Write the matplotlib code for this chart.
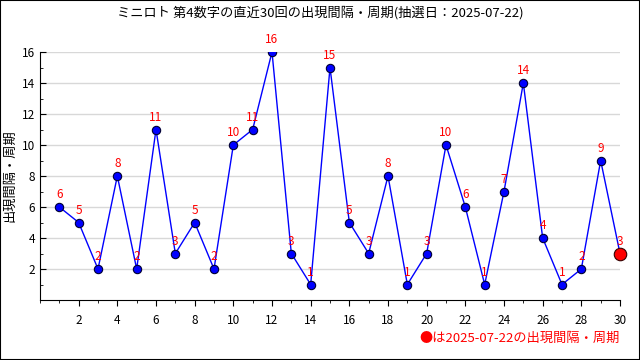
import numpy as np
import matplotlib.pyplot as plt
from matplotlib.ticker import MultipleLocator

plt.rcParams['font.family'] = ['Noto Sans CJK JP', 'DejaVu Sans']

# データ
kai = list(range(1, 31))
kankaku = [6, 5, 2, 8, 2, 11, 3, 5, 2, 10, 11, 16, 3, 1, 15, 5, 3, 8, 1, 3,
           10, 6, 1, 7, 14, 4, 1, 2, 9, 3]
xticks = list(range(2, 31, 2))
yticks = list(range(2, 17, 2))
title = 'ミニロト 第4数字の直近30回の出現間隔・周期(抽選日：2025-07-22)'
note = '●は2025-07-22の出現間隔・周期'

fig = plt.figure(figsize=(6.4, 3.6), dpi=100)
ax = fig.add_axes([40/640, 1-300/360, 580/640, 248/360])

ax.plot(kai[:-1], kankaku[:-1], color='blue', lw=1, marker='o', ms=6,
        mfc='blue', mec='#000033', mew=0.8, zorder=3)
ax.plot(kai[-2:], kankaku[-2:], color='blue', lw=1, zorder=2)
ax.plot(kai[-1], kankaku[-1], marker='o', ms=9, mfc='red', mec='#330000',
        mew=0.8, zorder=4, clip_on=False)

for x, y in zip(kai, kankaku):
    ax.annotate(str(y), (x, y), xytext=(0, 4), textcoords='offset points',
                ha='center', va='bottom', color='red', fontsize=8.5)

ax.set_xlim(0, 30)
ax.set_ylim(0, 16)
ax.set_xticks(xticks)
ax.xaxis.set_minor_locator(MultipleLocator(1))
ax.set_yticks(yticks)
ax.yaxis.set_minor_locator(MultipleLocator(1))
ax.tick_params(axis='y', which='major', direction='in', length=4, labelsize=8.5)
ax.tick_params(axis='y', which='minor', direction='in', length=2)
ax.tick_params(axis='x', which='major', direction='out', length=4, labelsize=8.5, pad=6)
ax.tick_params(axis='x', which='minor', direction='out', length=2)
ax.grid(axis='y', color='#d8d8d8', lw=1)
ax.set_axisbelow(True)
for s in ['top', 'right']:
    ax.spines[s].set_visible(False)

ax.set_ylabel('出現間隔・周期', fontsize=9.5, labelpad=4)
fig.text(0.5, 1-13/360, title, ha='center', va='center', fontsize=9.5)
fig.text(620/640, 1-338/360, note, ha='right', va='center', fontsize=9.5, color='red')

fig.patches.append(plt.Rectangle((0, 0), 1, 1, transform=fig.transFigure,
                                 fill=False, ec='black', lw=1.5))

plt.savefig('out.png', dpi=100)
